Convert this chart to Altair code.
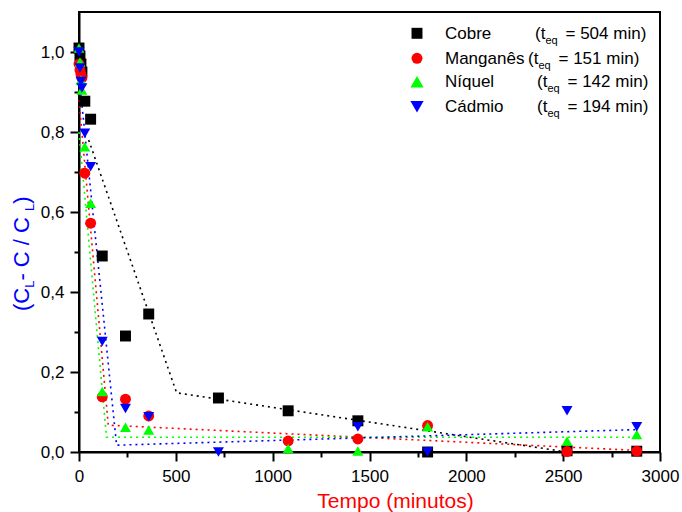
import altair as alt
import pandas as pd

# Series, colours and symbols
SERIES = ["Cobre", "Manganês", "Níquel", "Cádmio"]
COLORS = ["#000000", "#ff0000", "#00ff00", "#0000ff"]
SHAPES = ["square", "circle", "triangle-up", "triangle-down"]
SIZES = [120, 120, 175, 175]
T_EQ = [504, 151, 142, 194]

# Measured points: time (min) and (C_L - C)/C_L
t_cobre = [0, 5, 10, 15, 30, 60, 120, 240, 360, 720, 1080, 1440, 1800, 2520, 2880]
y_cobre = [1.01, 0.99, 0.97, 0.95, 0.877, 0.832, 0.49, 0.29, 0.345, 0.135, 0.103, 0.078, 0.0, 0.003, 0.002]

t_manganes = [0, 5, 10, 15, 30, 60, 120, 240, 360, 1080, 1440, 1800, 2520, 2880]
y_manganes = [0.97, 0.955, 0.945, 0.935, 0.697, 0.572, 0.138, 0.132, 0.09, 0.0275, 0.0325, 0.066, 0.001, 0.002]

t_niquel = [0, 5, 10, 15, 30, 60, 120, 240, 360, 1080, 1440, 1800, 2520, 2880]
y_niquel = [1.01, 0.975, 0.93, 0.905, 0.763, 0.622, 0.151, 0.062, 0.055, 0.009, 0.0025, 0.063, 0.0275, 0.044]

t_cadmio = [0, 5, 10, 15, 30, 60, 120, 240, 360, 720, 1440, 1800, 2520, 2880]
y_cadmio = [1.0, 0.96, 0.926, 0.91, 0.797, 0.713, 0.276, 0.109, 0.088, 0.0, 0.063, 0.0, 0.103, 0.063]

# Two-segment fits, break at t_eq
fit_t_cobre = [50, 504, 2520]
fit_y_cobre = [0.78, 0.148, 0.0]
fit_t_manganes = [0, 151, 2880]
fit_y_manganes = [0.88, 0.067, 0.004]
fit_t_niquel = [0, 142, 2880]
fit_y_niquel = [0.80, 0.037, 0.037]
fit_t_cadmio = [0, 194, 2880]
fit_y_cadmio = [0.94, 0.017, 0.056]

points = pd.DataFrame(
    [{"serie": s, "t": t, "v": v}
     for s, ts, vs in zip(SERIES,
                          [t_cobre, t_manganes, t_niquel, t_cadmio],
                          [y_cobre, y_manganes, y_niquel, y_cadmio])
     for t, v in zip(ts, vs)]
)
fits = pd.DataFrame(
    [{"serie": s, "t": t, "v": v, "k": i}
     for s, ts, vs in zip(SERIES,
                          [fit_t_cobre, fit_t_manganes, fit_t_niquel, fit_t_cadmio],
                          [fit_y_cobre, fit_y_manganes, fit_y_niquel, fit_y_cadmio])
     for i, (t, v) in enumerate(zip(ts, vs))]
)

FONT = "Liberation Sans"
x_scale = alt.Scale(domain=[0, 3000], nice=False, zero=False)
y_scale = alt.Scale(domain=[0, 1.1], nice=False, zero=False)
color_scale = alt.Scale(domain=SERIES, range=COLORS)
shape_scale = alt.Scale(domain=SERIES, range=SHAPES)
size_scale = alt.Scale(domain=SERIES, range=SIZES)

x_axis = alt.Axis(
    values=list(range(0, 3001, 250)),
    labelExpr="datum.value % 500 === 0 ? format(datum.value, 'd') : ''",
    tickSize={"condition": {"test": "datum.value % 500 === 0", "value": 9}, "value": 5},
    labelPadding=7,
    labelFlush=False,
    title="Tempo (minutos)",
    titleColor="#ff0000",
    titleFontSize=21,
    titleFontWeight="normal",
    titleFont=FONT,
    titleX=316,
    titleY=55,
    titleAlign="center",
    titleBaseline="alphabetic",
)
y_axis = alt.Axis(
    values=[round(i * 0.1, 1) for i in range(11)],
    labelExpr="round(datum.value * 10) % 2 === 0 ? replace(format(datum.value, '.1f'), '.', ',') : ''",
    tickSize={"condition": {"test": "round(datum.value * 10) % 2 === 0", "value": 9}, "value": 5},
    labelPadding=6,
    labelFlush=False,
    title=None,
)

base_x = alt.X("t:Q", scale=x_scale, axis=x_axis)
base_y = alt.Y("v:Q", scale=y_scale, axis=y_axis)

lines = alt.Chart(fits).mark_line(strokeDash=[2, 4], strokeWidth=1.6, clip=False).encode(
    x=base_x,
    y=base_y,
    color=alt.Color("serie:N", scale=color_scale, legend=None),
    detail="serie:N",
    order="k:Q",
)

marks = alt.Chart(points).mark_point(filled=True, opacity=1, clip=False).encode(
    x=base_x,
    y=base_y,
    color=alt.Color("serie:N", scale=color_scale, legend=None),
    shape=alt.Shape("serie:N", scale=shape_scale, legend=None),
    size=alt.Size("serie:N", scale=size_scale, legend=None),
)

layers = [lines, marks]

# Legend block with subscripted t_eq (positions relative to the plot area)
LEG_SYM_X = 338
LEG_NAME_X = 366
LEG_ROW_Y = [21.3, 46.3, 69.7, 94.7]
LEG_PAREN_X = [456, 449, 458, 458]
one = pd.DataFrame({"d": [0]})


def txt(s, x, y, size=17, color="#000000", angle=0):
    kw = dict(align="left", baseline="alphabetic", font=FONT, fontSize=size, color=color)
    if angle:
        kw["angle"] = angle
    return alt.Chart(one).mark_text(**kw).encode(
        x=alt.value(x), y=alt.value(y), text=alt.value(s)
    )


for i, s in enumerate(SERIES):
    yb = LEG_ROW_Y[i] + 5.5
    layers.append(
        alt.Chart(one).mark_point(filled=True, size=SIZES[i], opacity=1,
                                  shape=SHAPES[i], color=COLORS[i]).encode(
            x=alt.value(LEG_SYM_X), y=alt.value(LEG_ROW_Y[i]))
    )
    layers.append(txt(s, LEG_NAME_X, yb))
    layers.append(txt("(t", LEG_PAREN_X[i], yb))
    layers.append(txt("eq", LEG_PAREN_X[i] + 10.4, yb + 5, size=11))
    layers.append(txt(f"= {T_EQ[i]} min)", LEG_PAREN_X[i] + 30.5, yb))

# Rotated y title: (C_L - C / C_L)
BLUE = "#0000ff"
layers += [
    txt("(C", -50, 299, size=22, color=BLUE, angle=270),
    txt("L", -45, 275.8, size=13, color=BLUE, angle=270),
    txt(" - C / C", -50, 268.6, size=22, color=BLUE, angle=270),
    txt("L", -45, 198.9, size=13, color=BLUE, angle=270),
    txt(")", -50, 191.7, size=22, color=BLUE, angle=270),
]

chart = alt.layer(*layers).properties(
    width=581,
    height=440,
    autosize=alt.AutoSizeParams(type="none"),
    padding={"left": 79, "top": 12, "right": 22, "bottom": 60},
    background="white",
).configure_view(
    stroke="#000000", strokeWidth=2
).configure_axis(
    grid=False,
    domainColor="#000000",
    domainWidth=2,
    tickColor="#000000",
    tickWidth=2,
    labelFont=FONT,
    labelFontSize=17,
    labelColor="#000000",
)

chart.save("out.html", embed_options={"renderer": "svg", "actions": False})
